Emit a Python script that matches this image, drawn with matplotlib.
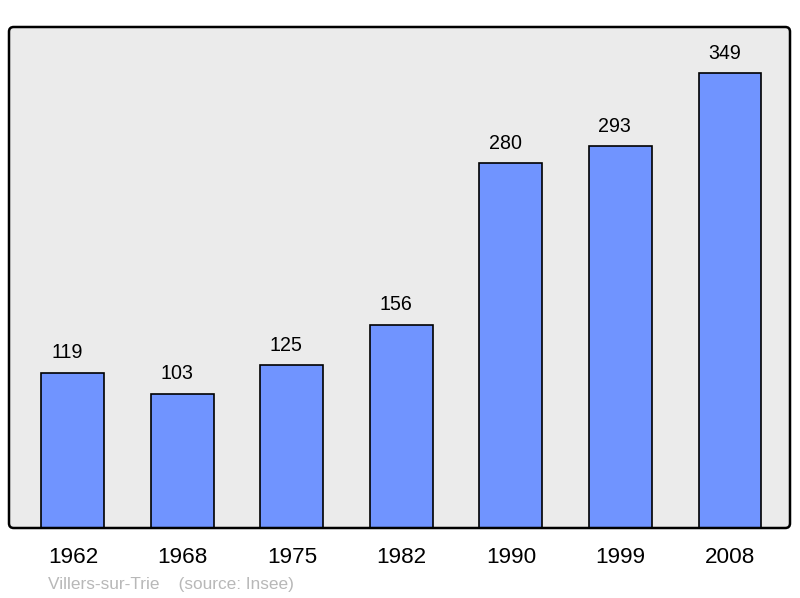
import matplotlib
matplotlib.use("Agg")
import matplotlib.pyplot as plt
from matplotlib.patches import FancyBboxPatch

plt.rcParams['font.family'] = ['Liberation Sans', 'DejaVu Sans']

years = ["1962", "1968", "1975", "1982", "1990", "1999", "2008"]
population = [119, 103, 125, 156, 280, 293, 349]
footer = "Villers-sur-Trie    (source: Insee)"

fig = plt.figure(figsize=(8, 5.98), dpi=100)
ax = fig.add_axes([9/800, 1 - 528/598, 781/800, 501/598])
ax.set_facecolor("#ebebeb")

x = list(range(len(years)))
ax.bar(x, population, width=0.575, color="#7094ff", edgecolor="black", linewidth=1.2, zorder=2)
for xi, v in zip(x, population):
    ax.annotate(str(v), (xi, v), xytext=(-4.1, 10.4), textcoords="offset points",
                ha="center", va="baseline", fontsize=14.1, color="black")

ax.set_xlim(-0.584, 6.548)
ax.set_ylim(0, 384.3)
ax.set_yticks([])
ax.set_xticks(x)
ax.set_xticklabels(years, fontsize=16.2)
ax.tick_params(axis="x", length=0, pad=14)
for s in ax.spines.values():
    s.set_visible(False)

frame = FancyBboxPatch((0, 0), 1, 1, boxstyle="round,pad=0,rounding_size=0.006",
                       mutation_aspect=781/501, transform=ax.transAxes,
                       facecolor="none", edgecolor="black", linewidth=1.8,
                       clip_on=False, zorder=5)
ax.add_patch(frame)

fig.text(48/800, 1 - 584/598, footer, fontsize=12.4, color="#b8b8b8", ha="left", va="center")

fig.savefig("out.png", dpi=100)
